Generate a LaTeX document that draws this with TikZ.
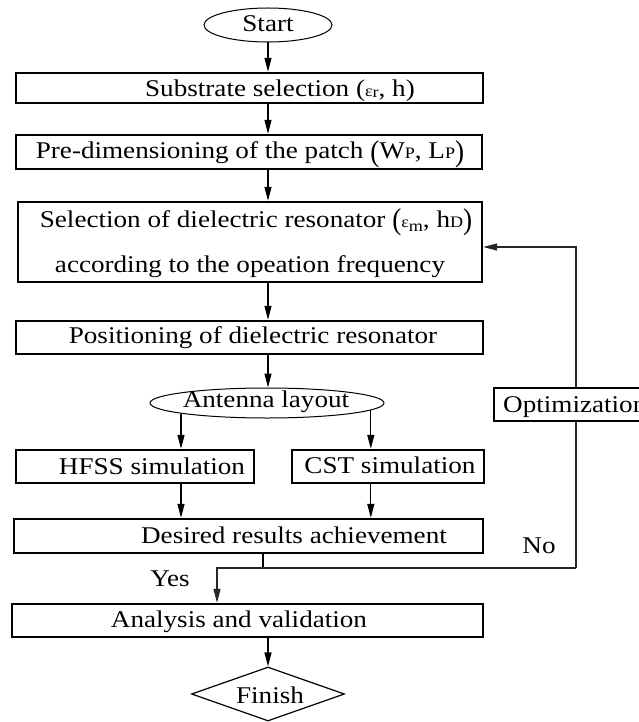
\documentclass[tikz,border=0pt]{standalone}
\usepackage{fontspec}
\setmainfont{Liberation Serif}[FakeStretch=1.13]
\usepackage{graphicx}
\usetikzlibrary{shapes.geometric,arrows.meta}
\newcommand{\smf}{\fontsize{16}{16}\selectfont}
\newcommand{\mybig}[1]{\raisebox{-2pt}{\scalebox{1}[1.25]{#1}}}
\begin{document}
\begin{tikzpicture}[x=1pt,y=-1pt,
  font=\fontsize{24}{28}\selectfont,
  box/.style={draw,line width=2.4pt,inner sep=0pt,fill=white},
  ell/.style={draw,ellipse,line width=1pt,inner sep=0pt,fill=white},
  txt/.style={anchor=base,inner sep=0pt},
  conn/.style={line width=1.3pt,-{Triangle[length=14pt,width=7pt]}},
  fb/.style={line width=1.2pt,draw=black!85}]
\useasboundingbox (0,0) rectangle (639,722);

% shapes
\node[ell,minimum width=128pt,minimum height=34pt] (start) at (268,25) {};
\node[box,minimum width=467pt,minimum height=30pt] (sub) at (249.5,88) {};
\node[box,minimum width=466pt,minimum height=34pt] (pre) at (249,152) {};
\node[box,minimum width=464pt,minimum height=80pt] (sel) at (250,242) {};
\node[box,minimum width=467pt,minimum height=33pt] (pos) at (249.5,337.5) {};
\node[ell,minimum width=234pt,minimum height=30pt] (ant) at (267,403) {};
\node[box,minimum width=238pt,minimum height=33pt] (hfss) at (135,466.5) {};
\node[box,minimum width=192pt,minimum height=33pt] (cst) at (388,466.5) {};
\node[box,minimum width=469pt,minimum height=34pt] (des) at (248.5,536) {};
\node[box,minimum width=471pt,minimum height=33pt] (ana) at (247.5,620.5) {};
\node[draw,diamond,line width=1.2pt,inner sep=0pt,minimum width=153pt,minimum height=54pt] (fin) at (268,694) {};

% texts
\node[txt] (startt) at (268,32) {Start};
\node[txt] (subt) at (280,97) {Substrate selection ({\smf ε\raisebox{-1pt}{r}}, h)};
\node[txt] (pret) at (250,159) {Pre-dimensioning of the patch \mybig{(}W{\smf P}, L{\smf P}\mybig{)}};
\node[txt] (selt1) at (256,227) {Selection of dielectric resonator \mybig{(}{\smf ε\raisebox{-4pt}{m}}, h{\smf D}\mybig{)}};
\node[txt] (selt2) at (250,272) {according to the opeation frequency};
\node[txt] (post) at (253,343) {Positioning of dielectric resonator};
\node[txt] (antt) at (266,407) {Antenna layout};
\node[txt] (hfsst) at (152,474) {HFSS simulation};
\node[txt] (cstt) at (390,473) {CST simulation};
\node[txt] (dest) at (294,543) {Desired results achievement};
\node[txt] (yes) at (170,586) {Yes};
\node[txt] (no) at (539,553) {No};
\node[txt] (anat) at (239,627) {Analysis and validation};
\node[txt] (fint) at (270,703) {Finish};

% connectors
\draw[conn] (start.south) -- (start.south |- sub.north);
\draw[conn] (sub.south -| start.south) -- (pre.north -| start.south);
\draw[conn] (pre.south -| start.south) -- (sel.north -| start.south);
\draw[conn] (sel.south -| start.south) -- (pos.north -| start.south);
\draw[conn] (pos.south -| start.south) -- (ant.north -| start.south);
\draw[conn] (ant.187) -- (ant.187 |- hfss.north);
\draw[conn] (ant.-4.5) -- (ant.-4.5 |- cst.north);
\draw[conn] (hfss.south -| ant.187) -- (des.north -| ant.187);
\draw[conn] (cst.south -| ant.-4.5) -- (des.north -| ant.-4.5);

\coordinate (j1) at (263,568);
\coordinate (j2) at (217,568);
\coordinate (j3) at (576,568);
\coordinate (j4) at (576,247);
\draw[line width=1.3pt] (des.south -| j1) -- (j1);
\draw[conn,fb] (j3) -- (j2) -- (j2 |- ana.north);
\draw[conn,fb] (j3) -- (j4) -- (j4 -| sel.east);
\draw[conn] (ana.south -| fin.north) -- (fin.north);

% optimization box (cut by the page edge)
\node[box,line width=2pt,minimum width=170pt,minimum height=33pt] (opt) at (579,404.5) {};
\node[txt,anchor=base west] (optt) at (503,412) {Optimization};
\end{tikzpicture}
\end{document}
